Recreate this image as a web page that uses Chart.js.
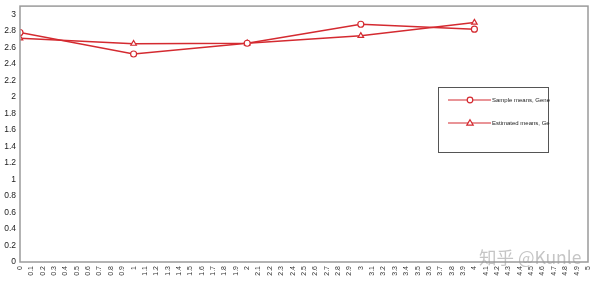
<!DOCTYPE html>
<html>
<head>
<meta charset="utf-8">
<script src="https://cdn.jsdelivr.net/npm/chart.js@4/dist/chart.umd.min.js"></script>
<style>
  html, body { margin: 0; padding: 0; background: #fff; }
  #wrap { position: relative; width: 600px; height: 281px; }
  #mark { position: absolute; left: 479px; top: 244px; font: 17.5px "Noto Sans CJK SC", "DejaVu Sans", sans-serif; color: rgba(150,150,150,0.55); white-space: nowrap; }
</style>
</head>
<body>
<div id="wrap">
  <canvas id="canvas" width="600" height="281"></canvas>
  <div id="mark">知乎 @Kunle</div>
</div>
<script>
// data
const xValues = [0, 1, 2, 3, 4];
const sampleMeans = [2.78, 2.52, 2.65, 2.88, 2.82];
const estimatedMeans = [2.71, 2.645, 2.65, 2.74, 2.90];
const seriesLabels = ['Sample means, Gene', 'Estimated means, Ge'];
const yTicks = [0, 0.2, 0.4, 0.6, 0.8, 1, 1.2, 1.4, 1.6, 1.8, 2, 2.2, 2.4, 2.6, 2.8, 3];

const red = '#d42a30';

// frame round the plot + boxed legend inside it
const frameAndLegend = {
    id: 'frameAndLegend',
    afterDraw(chart) {
        const ctx = chart.ctx;
        const a = chart.chartArea;
        ctx.save();
        ctx.strokeStyle = '#9a9a9a';
        ctx.lineWidth = 1.5;
        ctx.strokeRect(a.left, a.top, a.right - a.left, a.bottom - a.top);

        // legend box
        ctx.strokeStyle = '#555';
        ctx.lineWidth = 1;
        ctx.strokeRect(438.5, 87.5, 110, 65);
        ctx.font = '6px "Liberation Sans", Arial, sans-serif';
        ctx.textBaseline = 'middle';
        chart.data.datasets.forEach((ds, i) => {
            const y = 100 + i * 23;
            ctx.strokeStyle = red;
            ctx.lineWidth = 1.2;
            ctx.beginPath();
            ctx.moveTo(448, y);
            ctx.lineTo(491, y);
            ctx.stroke();
            ctx.fillStyle = '#fff';
            ctx.beginPath();
            if (ds.pointStyle === 'triangle') {
                ctx.moveTo(470, y - 3.2);
                ctx.lineTo(473.2, y + 2.2);
                ctx.lineTo(466.8, y + 2.2);
                ctx.closePath();
            } else {
                ctx.arc(470, y, 2.8, 0, Math.PI * 2);
            }
            ctx.fill();
            ctx.stroke();
            ctx.fillStyle = '#222';
            ctx.fillText(ds.label, 492, y);
        });
        ctx.restore();
    }
};

const ctx = document.getElementById('canvas').getContext('2d');

const myChart = new Chart(ctx, {
    type: 'line',
    data: {
        datasets: [{
            label: seriesLabels[0],
            data: xValues.map((x, i) => ({ x: x, y: sampleMeans[i] })),
            borderColor: red,
            backgroundColor: '#fff',
            borderWidth: 1.5,
            pointStyle: 'circle',
            pointRadius: 3,
            pointBorderWidth: 1.2,
            tension: 0
        }, {
            label: seriesLabels[1],
            data: xValues.map((x, i) => ({ x: x, y: estimatedMeans[i] })),
            borderColor: red,
            backgroundColor: '#fff',
            borderWidth: 1.5,
            pointStyle: 'triangle',
            pointRadius: 3.2,
            pointBorderWidth: 1.2,
            tension: 0
        }]
    },
    options: {
        responsive: false,
        animation: false,
        layout: { padding: { left: 0, right: 12, top: 6, bottom: 0 } },
        plugins: { legend: { display: false }, tooltip: { enabled: false } },
        scales: {
            x: {
                type: 'linear',
                min: 0,
                max: 5,
                grid: { display: false, drawTicks: true, tickLength: 3, tickColor: '#333' },
                border: { display: false },
                afterFit(scale) { scale.height = 19; },
                ticks: {
                    stepSize: 0.1,
                    autoSkip: false,
                    maxRotation: 90,
                    minRotation: 90,
                    padding: 1,
                    color: '#333',
                    font: { size: 7, family: 'Liberation Sans' },
                    callback: v => String(Math.round(v * 10) / 10)
                }
            },
            y: {
                min: 0,
                max: 3.1,
                grid: { display: false, drawTicks: true, tickLength: 3, tickColor: '#666' },
                border: { display: false },
                afterFit(scale) { scale.width = 20; },
                afterBuildTicks(scale) { scale.ticks = yTicks.map(v => ({ value: v })); },
                ticks: {
                    padding: 1,
                    color: '#222',
                    font: { size: 8.5, family: 'Liberation Sans' },
                    callback: v => String(v)
                }
            }
        }
    },
    plugins: [frameAndLegend]
});
</script>
</body>
</html>
